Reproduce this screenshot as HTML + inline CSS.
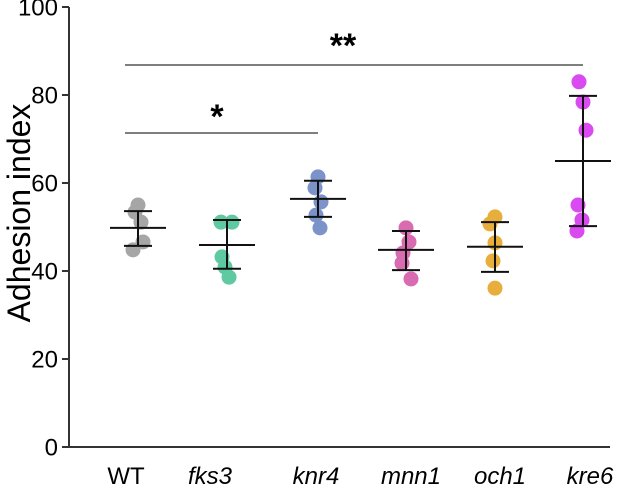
<!DOCTYPE html>
<html><head><meta charset="utf-8"><style>
body{margin:0;background:#fff}
svg{display:block;font-family:"Liberation Sans",Arial,sans-serif}
</style></head><body>
<svg id="chart" width="629" height="490"></svg>
<script>
const categories=["WT","fks3","knr4","mnn1","och1","kre6"];
const italicCat=[false,true,true,true,true,true];
const colors=["#a6a6a6","#5fc9a1","#7b93c9","#d96bb0","#e8ae3c","#d94af0"];
const points=[[55,53.4,51.1,46.6,44.8],[51.1,51.1,43.2,40.9,38.6],[61.4,58.9,55.7,52.7,49.8],[49.8,46.6,44.1,41.8,38.2],[52.3,50.7,46.4,42.3,36.1],[83,78.4,72,55,51.6,49.1]];
const means=[49.8,45.9,56.4,44.8,45.5,65];
const sdHigh=[53.6,51.6,60.5,49.1,51.1,79.8];
const sdLow=[45.7,40.5,52.3,40.2,39.8,50.2];
const yTicks=[0,20,40,60,80,100];
const catX=[138,227,318,406,495,583];
const labelX=[126,210,316,411,500,590];
const jit=[[0,-3,3,5,-5,0],[-6,5,-5,-2,2,0],[0,-3,3,-2,2,0],[0,3,-3,-4,5,0],[0,-5,0,-2,0,0],[-4,0,3,-5,-1,-6]];
const svg=document.getElementById('chart');
const NS="http://www.w3.org/2000/svg";
function y(v){return 447-4.4*v;}
function mk(t,a,p){const e=document.createElementNS(NS,t);for(const k in a)e.setAttribute(k,a[k]);(p||svg).appendChild(e);return e;}
let ax=mk('line',{x1:69,y1:y(0),x2:69,y2:y(100),stroke:'#333','stroke-width':2});


let bx=mk('line',{x1:68,y1:y(0),x2:610,y2:y(0),stroke:'#333','stroke-width':2});


yTicks.forEach(v=>{
 let t=mk('line',{x1:62,x2:69,y1:y(v),y2:y(v),stroke:'#333','stroke-width':2});
 
 
 let l=mk('text',{x:58,y:y(v)+8.5,'text-anchor':'end','font-size':24});
 l.textContent=v;
 
 
});
let yt=mk('text',{x:0,y:0,'text-anchor':'middle','font-size':32,transform:'translate(30,213) rotate(-90)'});
yt.textContent='Adhesion index';


categories.forEach((c,i)=>{
 let l=mk('text',{x:labelX[i],y:484,'text-anchor':'middle','font-size':24,'font-style':italicCat[i]?'italic':'normal'});
 l.textContent=c;
 
 
 const cx=catX[i];
 points[i].forEach((v,j)=>{
  let p=mk('circle',{cx:cx+jit[i][j],cy:y(v),r:7.5,fill:colors[i]});
  
  
 });
 let g=mk('g',{stroke:'#111','stroke-width':2});
 
 
 mk('line',{x1:cx-28,x2:cx+28,y1:y(means[i]),y2:y(means[i])},g);
 mk('line',{x1:cx,x2:cx,y1:y(sdHigh[i]),y2:y(sdLow[i])},g);
 mk('line',{x1:cx-14,x2:cx+14,y1:y(sdHigh[i]),y2:y(sdHigh[i])},g);
 mk('line',{x1:cx-14,x2:cx+14,y1:y(sdLow[i]),y2:y(sdLow[i])},g);
});
let s1=mk('line',{x1:125,x2:318,y1:133,y2:133,stroke:'#333','stroke-width':1.2});


let s2=mk('line',{x1:125,x2:583,y1:65,y2:65,stroke:'#333','stroke-width':1.2});


let t1=mk('text',{x:217,y:128,'text-anchor':'middle','font-size':34,'font-weight':'bold'});
t1.textContent='*';


let t2=mk('text',{x:343,y:57,'text-anchor':'middle','font-size':34,'font-weight':'bold'});
t2.textContent='**';


</script>
</body></html>
